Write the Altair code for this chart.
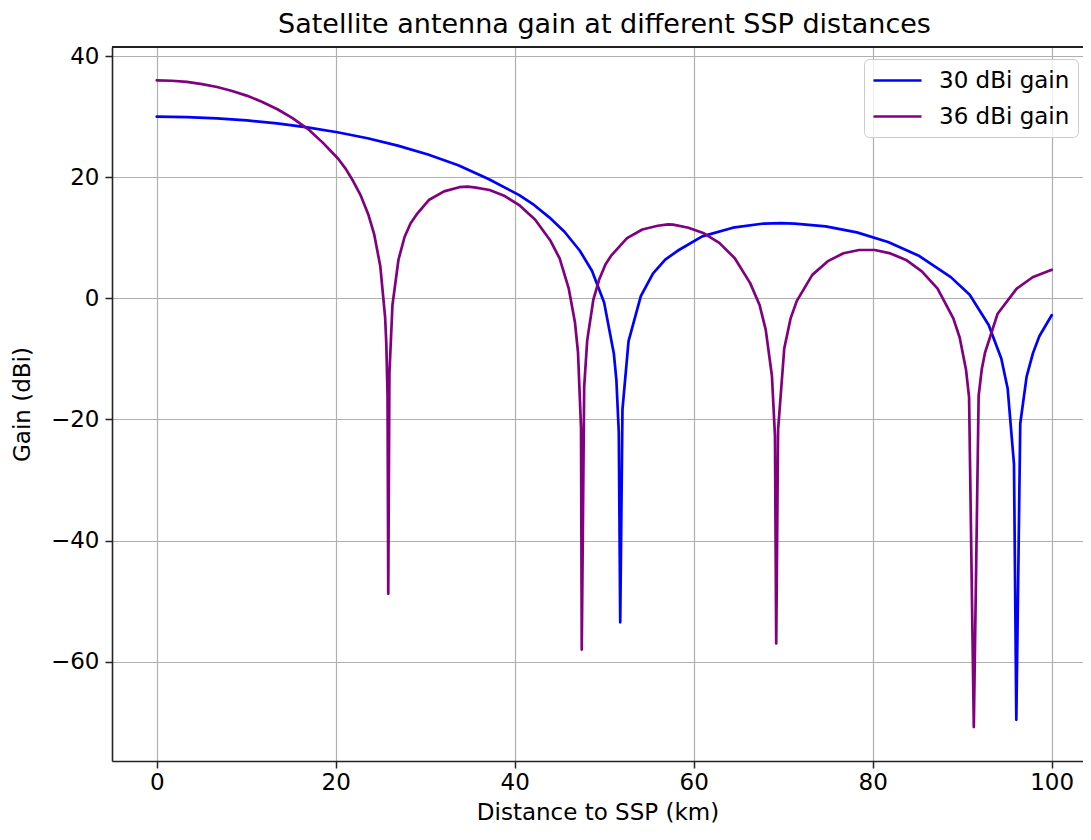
import altair as alt
import pandas as pd

# ---- data ----
series_names = ["30 dBi gain", "36 dBi gain"]
series_colors = ["#0000ff", "#800080"]
x_ticks = [0, 20, 40, 60, 80, 100]
y_ticks = [-60, -40, -20, 0, 20, 40]

blue_km = [0, 3.36, 6.72, 10.08, 13.45, 16.82, 20.18, 23.56, 26.93, 30.31,
           33.69, 37.07, 40.46, 42.16, 43.86, 45.56, 47.26, 48.63, 49.99, 51.08,
           51.36, 51.63, 51.79, 52.04, 52.72, 54.09, 55.46, 56.82, 58.20, 60.95,
           64.38, 67.83, 69.76, 71.29, 74.75, 78.23, 81.72, 85.22, 88.73, 90.84,
           92.96, 94.37, 95.08, 95.79, 96.05, 96.49, 97.20, 97.91, 98.62, 100.0]
blue_gain = [30, 29.93, 29.73, 29.38, 28.89, 28.24, 27.43, 26.43, 25.22, 23.76,
             21.99, 19.71, 17.09, 15.42, 13.37, 10.99, 7.90, 4.55, -0.70, -9.16,
             -13.45, -22.16, -53.5, -18.34, -7.08, 0.37, 4.13, 6.39, 7.85, 10.23,
             11.66, 12.35, 12.43, 12.33, 11.88, 10.89, 9.30, 6.98, 3.50, 0.59,
             -4.41, -9.95, -14.88, -27.4, -69.6, -20.67, -12.94, -9.05, -6.27, -2.8]

purple_km = [0, 1.69, 3.37, 5.06, 6.74, 8.43, 10.12, 11.80, 13.49, 15.17,
             16.87, 18.55, 20.25, 21.10, 21.94, 22.79, 23.63, 24.30, 24.98, 25.52,
             25.65, 25.79, 25.87, 26.00, 26.34, 27.01, 27.69, 28.37, 29.04, 30.40,
             32.10, 33.80, 34.74, 35.49, 37.19, 38.89, 40.59, 42.29, 44.00, 45.02,
             46.04, 46.73, 47.07, 47.41, 47.49, 47.76, 48.10, 48.78, 49.46, 50.15,
             50.83, 52.55, 54.26, 55.98, 57.13, 57.70, 59.41, 61.14, 62.86, 64.59,
             66.31, 67.36, 68.05, 68.74, 69.08, 69.22, 69.43, 70.12, 70.82, 71.51,
             73.25, 74.99, 76.74, 78.48, 80.23, 81.98, 83.73, 85.49, 87.25, 89.01,
             89.72, 90.43, 90.77, 91.30, 91.84, 92.19, 92.55, 93.96, 96.09, 97.87,
             99.65, 100.0]
purple_gain = [36, 35.93, 35.73, 35.38, 34.89, 34.24, 33.43, 32.43, 31.22, 29.76,
               27.99, 25.71, 23.09, 21.42, 19.37, 16.99, 13.90, 10.55, 5.30, -3.16,
               -7.45, -16.16, -48.8, -12.34, -1.08, 6.37, 10.13, 12.39, 13.85, 16.23,
               17.66, 18.35, 18.43, 18.33, 17.88, 16.89, 15.30, 12.98, 9.50, 6.59,
               1.59, -3.95, -8.88, -21.4, -58.0, -14.67, -6.94, -0.27, 3.20, 5.64,
               7.14, 9.94, 11.37, 11.98, 12.20, 12.16, 11.66, 10.73, 9.16, 6.62,
               2.51, -1.09, -5.21, -12.79, -22.7, -57.0, -21.7, -8.24, -3.36, -0.46,
               3.87, 6.14, 7.44, 7.98, 7.98, 7.42, 6.34, 4.46, 1.59, -3.32,
               -6.47, -11.8, -16.3, -70.8, -16.09, -11.7, -8.99, -2.54, 1.60, 3.48,
               4.52, 4.7]

df_blue = pd.DataFrame({"km": blue_km, "gain": blue_gain, "series": series_names[0]})
df_purple = pd.DataFrame({"km": purple_km, "gain": purple_gain, "series": series_names[1]})

W, H = 971, 714
FONT = "DejaVu Sans"

x_scale = alt.Scale(domain=[-5, 103.5], nice=False, zero=False)
y_scale = alt.Scale(domain=[-76.4, 41.5], nice=False, zero=False)

axis_common = dict(
    grid=True, gridColor="#b0b0b0", gridWidth=1.2,
    domainColor="#222222", domainWidth=1.6,
    tickColor="#222222", tickSize=7, tickWidth=1.5,
    labelFontSize=23, titleFontSize=23, labelColor="#000000", titleColor="#000000",
    labelFont=FONT, titleFont=FONT, titleFontWeight="normal",
    labelExpr="replace(datum.label, '-', '\u2212')",
)

x_enc = alt.X("km:Q", scale=x_scale,
              axis=alt.Axis(values=x_ticks, title="Distance to SSP (km)",
                            labelPadding=3, titlePadding=7, **axis_common))
y_enc = alt.Y("gain:Q", scale=y_scale,
              axis=alt.Axis(values=y_ticks, title="Gain (dBi)",
                            labelPadding=6, titlePadding=16, **axis_common))

color_enc = alt.Color(
    "series:N",
    scale=alt.Scale(domain=series_names, range=series_colors),
    legend=alt.Legend(
        title=None, orient="none", legendX=752, legendY=12,
        symbolType="M-1,0H3", symbolStrokeWidth=2.6, symbolSize=576,
        labelFontSize=23, labelFont=FONT, labelColor="#000000", labelOffset=40,
        fillColor="rgba(255,255,255,0.8)", strokeColor="#cccccc",
        cornerRadius=5, padding=8, rowPadding=10,
    ),
)

line_kw = dict(strokeWidth=2.7, strokeJoin="round", strokeCap="round", clip=True)

blue_line = alt.Chart(df_blue).mark_line(**line_kw).encode(x=x_enc, y=y_enc, color=color_enc)
purple_line = alt.Chart(df_purple).mark_line(**line_kw).encode(x=x_enc, y=y_enc, color=color_enc)

top_spine = alt.Chart(df_blue).mark_rule(color="#222222", strokeWidth=1.6).encode(
    x=alt.value(0), x2=alt.value(W), y=alt.value(0)
)

chart = alt.layer(blue_line, purple_line, top_spine).properties(
    width=W, height=H,
    padding={"left": 104, "top": 39, "right": 0, "bottom": 67},
    autosize=alt.AutoSizeParams(type="none"),
    title=alt.TitleParams(
        "Satellite antenna gain at different SSP distances",
        fontSize=27, font=FONT, fontWeight="normal", anchor="middle",
        offset=6, color="#000000", dx=7,
    ),
).configure_view(strokeWidth=0).configure(background="white")

chart.save("out.html", embed_options={"renderer": "svg", "actions": False})
